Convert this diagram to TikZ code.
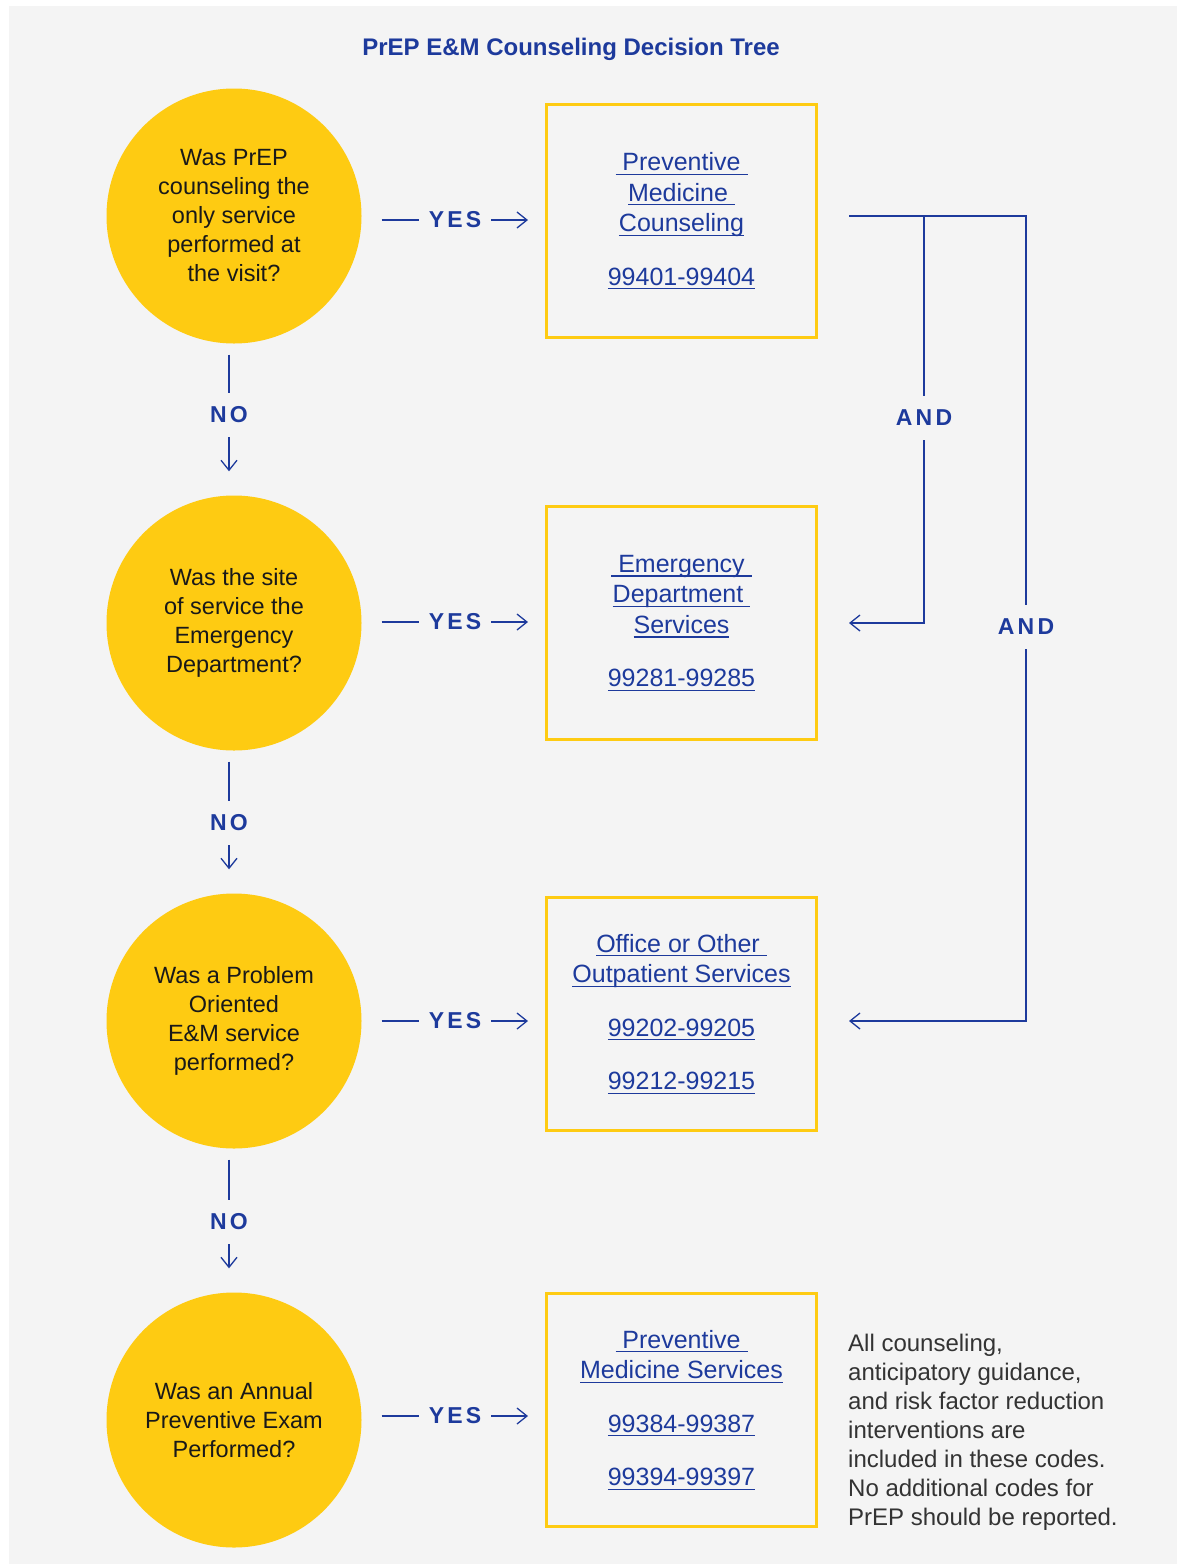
\documentclass[tikz,border=0pt]{standalone}
\usepackage{fontspec}
\setmainfont{Liberation Sans}
\newfontfamily\spacedfont[LetterSpace=14]{Liberation Sans}
\usepackage{tikz}
\usetikzlibrary{arrows.meta}
\usetikzlibrary{positioning}

\definecolor{prepblue}{HTML}{1D3A9C}
\definecolor{prepyellow}{HTML}{FECB12}
\definecolor{bggray}{HTML}{F4F4F4}
\definecolor{notegray}{HTML}{333333}

%underlined link text
\newsavebox{\lnkbox}
\newcommand{\lnk}[1]{\sbox{\lnkbox}{#1}\rlap{\rule[-4.3pt]{\wd\lnkbox}{1.3pt}}\usebox{\lnkbox}}

\begin{document}
\begin{tikzpicture}[x=1pt,y=-1pt]

   %Styles of circles, boxes and arrows
   \tikzstyle{question} = [circle, minimum size=255pt, fill=prepyellow, align=center, font=\fontsize{23.5}{29}\selectfont, text=black!90]
   \tikzstyle{codebox} = [rectangle, minimum width=270pt, minimum height=233pt, draw=prepyellow, line width=3pt, align=center, font=\fontsize{25}{30.5}\selectfont, text=prepblue]
   \tikzstyle{answer} = [text=prepblue, font=\fontsize{23}{23}\spacedfont\bfseries, inner xsep=10pt, inner ysep=14pt]
   \tikzstyle{wire} = [draw=prepblue, line width=1.3pt]
   \tikzstyle{arrow} = [wire, -{Straight Barb[length=10pt,width=16pt]}]

   %Background
   \fill[bggray] (9,6) rectangle (1177,1564);
   \useasboundingbox (0,0) rectangle (1181,1564);

   %Title
   \node[text=prepblue, font=\fontsize{24}{24}\selectfont\bfseries] (title) at (571,49) {PrEP E\&M Counseling Decision Tree};

   %Questions
   \node[question] (q1) at (234,216) {Was PrEP\\counseling the\\only service\\performed at\\the visit?};
   \node[question] (q2) at (234,623) {Was the site\\of service the\\Emergency\\Department?};
   \node[question] (q3) at (234,1021) {Was a Problem\\Oriented\\E\&M service\\performed?};
   \node[question] (q4) at (234,1420) {Was an Annual\\Preventive Exam\\Performed?};

   %Boxes
   \node[codebox] (b1) at (681.5,221) {\lnk{\ Preventive\ }\\\lnk{Medicine\ }\\\lnk{Counseling}\\[23pt]\lnk{99401-99404}};
   \node[codebox] (b2) at (681.5,623) {\lnk{\ Emergency\ }\\\lnk{Department\ }\\\lnk{Services}\\[23pt]\lnk{99281-99285}};
   \node[codebox] (b3) at (681.5,1014) {\lnk{Office or Other\ }\\\lnk{Outpatient Services}\\[23pt]\lnk{99202-99205}\\[23pt]\lnk{99212-99215}};
   \node[codebox] (b4) at (681.5,1410) {\lnk{\ Preventive\ }\\\lnk{Medicine Services}\\[23pt]\lnk{99384-99387}\\[23pt]\lnk{99394-99397}};

   %Note
   \node[anchor=north west, inner sep=0pt, align=left, text=notegray, font=\fontsize{24}{29}\selectfont] (note) at (848,1334) {All counseling,\\anticipatory guidance,\\and risk factor reduction\\interventions are\\included in these codes.\\No additional codes for\\PrEP should be reported.};

   %Labels
   \node[answer] (y1) at (455,220) {YES};
   \node[answer] (y2) at (455,622) {YES};
   \node[answer] (y3) at (455,1021) {YES};
   \node[answer] (y4) at (455,1416) {YES};
   \node[answer] (n1) at (229,415) {NO};
   \node[answer] (n2) at (229,823) {NO};
   \node[answer] (n3) at (229,1222) {NO};
   \node[answer] (a1) at (924,418) {AND};
   \node[answer] (a2) at (1026,627) {AND};
   \coordinate (fork) at (849,216);

   %Yes arrows
   \draw[wire, shorten <=20pt] (q1.east |- y1) -- (y1.west);
   \draw[arrow, shorten >=17pt] (y1.east) -- (b1.west |- y1);
   \draw[wire, shorten <=20pt] (q2.east |- y2) -- (y2.west);
   \draw[arrow, shorten >=17pt] (y2.east) -- (b2.west |- y2);
   \draw[wire, shorten <=20pt] (q3.east |- y3) -- (y3.west);
   \draw[arrow, shorten >=17pt] (y3.east) -- (b3.west |- y3);
   \draw[wire, shorten <=20pt] (q4.east |- y4) -- (y4.west);
   \draw[arrow, shorten >=17pt] (y4.east) -- (b4.west |- y4);

   %No arrows
   \draw[wire, shorten <=11pt] (n1.north |- q1.south) -- (n1.north);
   \draw[arrow, shorten >=24pt] (n1.south) -- (n1.south |- q2.north);
   \draw[wire, shorten <=11pt] (n2.north |- q2.south) -- (n2.north);
   \draw[arrow, shorten >=24pt] (n2.south) -- (n2.south |- q3.north);
   \draw[wire, shorten <=11pt] (n3.north |- q3.south) -- (n3.north);
   \draw[arrow, shorten >=24pt] (n3.south) -- (n3.south |- q4.north);

   %And arrows
   \draw[wire] (fork) -| (a2.north);
   \draw[wire] (fork -| a1) -- (a1.north);
   \draw[arrow, shorten >=31pt] (a1.south) |- (b2.east |- q2);
   \draw[arrow, shorten >=31pt] (a2.south) |- (b3.east |- q3);

\end{tikzpicture}
\end{document}
